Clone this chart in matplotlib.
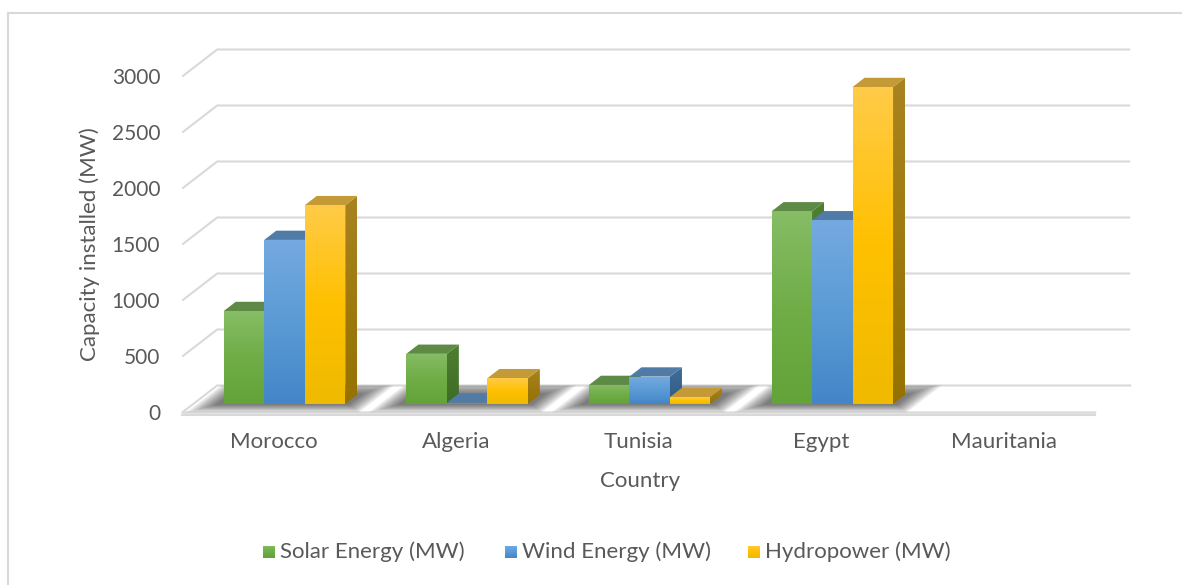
import numpy as np
import matplotlib
matplotlib.use("Agg")
import matplotlib.pyplot as plt
from matplotlib.patches import Polygon
from matplotlib.lines import Line2D
from matplotlib.colors import LinearSegmentedColormap

# ---------------- data ----------------
countries = ["Morocco", "Algeria", "Tunisia", "Egypt", "Mauritania"]
solar = [830, 448, 170, 1720, 0]
wind = [1465, 12, 245, 1640, 0]
hydro = [1775, 230, 62, 2830, 0]
series_names = ["Solar Energy (MW)", "Wind Energy (MW)", "Hydropower (MW)"]
y_ticks = [0, 500, 1000, 1500, 2000, 2500, 3000]
x_title = "Country"
y_title = "Capacity installed (MW)"

# ---------------- style ----------------
FONT = ["Lato", "DejaVu Sans"]
TXT = "#595959"
GRID = "#d9d9d9"
FS_TICK = 15
FS = 16
# (front top, front mid, front bottom, top face, side top, side bottom)
palettes = [
    ("#86bd66", "#70ad47", "#63a338", "#5d8a45", "#4d7f31", "#3e6c24"),
    ("#74aae0", "#5b9bd5", "#4385c8", "#4f7ba6", "#3f6c98", "#325b85"),
    ("#ffcb48", "#ffc000", "#efba00", "#c39a35", "#a88320", "#957200"),
]

W, H = 1182, 585
fig = plt.figure(figsize=(W / 100, H / 100), dpi=100)
ax = fig.add_axes([0, 0, 1, 1])
ax.axis("off")

# mapping: data plane = front plane of the bars
PX_CAT = 182.6
PX_MW = 0.112
X0PX = 284.5
Y0PX = 404.0
XLIM = (-X0PX / PX_CAT, (W - X0PX) / PX_CAT)
YLIM = ((Y0PX - H) / PX_MW, Y0PX / PX_MW)

DX = 35 / PX_CAT      # full depth of the floor, horizontal
DY = 27 / PX_MW       # full depth of the floor, vertical
F0 = 11 / 35          # bar front depth
F1 = 23 / 35          # bar back depth
BW = 40.5 / PX_CAT    # bar width in category units


def P(x, v, d):
    return (x + (d - F0) * DX, v + (d - F0) * DY)


def px(dxp=0, dyp=0):
    return dxp / PX_CAT, -dyp / PX_MW


n = len(countries)
xa, xb = -0.5, n - 0.5

# ---- floor ----
floor_pts = [P(xa, 0, 0), P(xb, 0, 0), P(xb, 0, 1), P(xa, 0, 1)]
floor = Polygon(floor_pts, closed=True, facecolor="white", edgecolor="none", zorder=1)
ax.add_patch(floor)
t = 3 / PX_MW
fa, fb = P(xa, 0, 0), P(xb, 0, 0)
ba, bb = P(xa, 0, 1), P(xb, 0, 1)
ax.add_patch(Polygon([fa, fb, (fb[0], fb[1] - t), (fa[0], fa[1] - t)], closed=True,
                     facecolor="#efefef", edgecolor="none", zorder=1))
ax.plot([fb[0], fa[0], ba[0], bb[0]], [fb[1], fa[1], ba[1], bb[1]], color=GRID, lw=1.5, zorder=1.2)
ax.plot([fa[0], fb[0]], [fa[1] - t, fb[1] - t], color=GRID, lw=1.5, zorder=1.2)

# ---- gridlines ----
for v in y_ticks[1:]:
    p0, p1, p2 = P(xa, v, 0), P(xa, v, 1), P(xb, v, 1)
    ax.plot([p0[0], p1[0], p2[0]], [p0[1], p1[1], p2[1]], color=GRID, lw=1.5,
            solid_capstyle="butt", zorder=0.5)

# ---- tick labels ----
for v in y_ticks:
    p0 = P(xa, v, 0)
    ax.text(p0[0] - 22 / PX_CAT, p0[1] - 2 / PX_MW, f"{v}", ha="right", va="center",
            fontsize=FS_TICK, color=TXT, family=FONT)

# ---- category labels ----
for i, c in enumerate(countries):
    p0 = P(i, 0, 0)
    ax.text(p0[0], p0[1] - 30 / PX_MW, c, ha="center", va="center",
            fontsize=FS, color=TXT, family=FONT)

# ---- shadows ----
series = [solar, wind, hydro]
for i in range(n):
    if max(s[i] for s in series) <= 0:
        continue
    gl, gr = i - 1.5 * BW, i + 1.5 * BW
    for k in range(9, 0, -1):
        e = 2.4 * k
        ex = e / PX_CAT
        ed = e / 35
        pts = [P(gl - ex - 5 / PX_CAT, 0, F0 - ed * 0.5), P(gr + ex + 3 / PX_CAT, 0, F0 - ed * 0.5),
               P(gr + ex + 3 / PX_CAT, 0, F1 + ed * 0.8), P(gl - ex - 5 / PX_CAT, 0, F1 + ed * 0.8)]
        sh = Polygon(pts, closed=True, facecolor="black", edgecolor="none", alpha=0.075, zorder=2)
        ax.add_patch(sh)
        sh.set_clip_path(floor)

# ---- bars ----
grad = np.linspace(0, 1, 256).reshape(-1, 1)


def grad_fill(verts, cols, z):
    poly = Polygon(verts, closed=True, facecolor="none", edgecolor="none", zorder=z)
    ax.add_patch(poly)
    xs = [p[0] for p in verts]
    ys = [p[1] for p in verts]
    cmap = LinearSegmentedColormap.from_list("g", cols)
    im = ax.imshow(grad, cmap=cmap, extent=[min(xs), max(xs), min(ys), max(ys)],
                   origin="lower", aspect="auto", interpolation="bilinear", zorder=z)
    im.set_clip_path(poly)


dd = (F1 - F0) * DX
ddv = (F1 - F0) * DY
z = 3
for i in range(n):
    for j, vals in enumerate(series):
        v = vals[i]
        if v <= 0:
            continue
        ft, fm, fbm, tc, st, sb = palettes[j]
        xl = i - 1.5 * BW + j * BW
        bars = ax.bar([xl], [v], width=BW, align="edge", color=fm, lw=0, zorder=z + 2)
        rect = bars[0]
        x0, x1 = rect.get_x(), rect.get_x() + rect.get_width()
        h = rect.get_height()
        # side face
        grad_fill([(x1, 0), (x1, h), (x1 + dd, h + ddv), (x1 + dd, ddv)], [sb, st], z)
        # top face
        ax.add_patch(Polygon([(x0, h), (x1, h), (x1 + dd, h + ddv), (x0 + dd, h + ddv)],
                             closed=True, facecolor=tc, edgecolor="none", zorder=z + 1))
        # front face gradient
        grad_fill([(x0, 0), (x1, 0), (x1, h), (x0, h)], [fbm, fm, ft], z + 2.5)
        z += 3

# ---- axis titles ----
ax.text(640 / PX_CAT - X0PX / PX_CAT, (Y0PX - 481) / PX_MW, x_title, ha="center", va="center",
        fontsize=FS, color=TXT, family=FONT)
ax.text(90 / PX_CAT - X0PX / PX_CAT, (Y0PX - 244) / PX_MW, y_title, ha="center", va="center",
        rotation=90, fontsize=FS, color=TXT, family=FONT)

# ---- legend ----
leg_x = [263, 505, 748]
leg_y = 552
for j, name in enumerate(series_names):
    x0, y0 = px(leg_x[j] - X0PX, leg_y - Y0PX)
    sx, sy = 12 / PX_CAT, 12 / PX_MW
    grad_fill([(x0, y0 - sy / 2), (x0 + sx, y0 - sy / 2), (x0 + sx, y0 + sy / 2), (x0, y0 + sy / 2)],
              [palettes[j][2], palettes[j][1], palettes[j][0]], 50)
    ax.text(x0 + 17 / PX_CAT, y0, name, ha="left", va="center", fontsize=FS, color=TXT, family=FONT)

# ---- chart border ----
fig.add_artist(Line2D([8 / W, 1], [1 - 13 / H, 1 - 13 / H], color=GRID, lw=1.5))
fig.add_artist(Line2D([8 / W, 8 / W], [0, 1 - 13 / H], color=GRID, lw=1.5))

ax.set_xlim(*XLIM)
ax.set_ylim(*YLIM)
fig.savefig("out.png", dpi=100, facecolor="white")
